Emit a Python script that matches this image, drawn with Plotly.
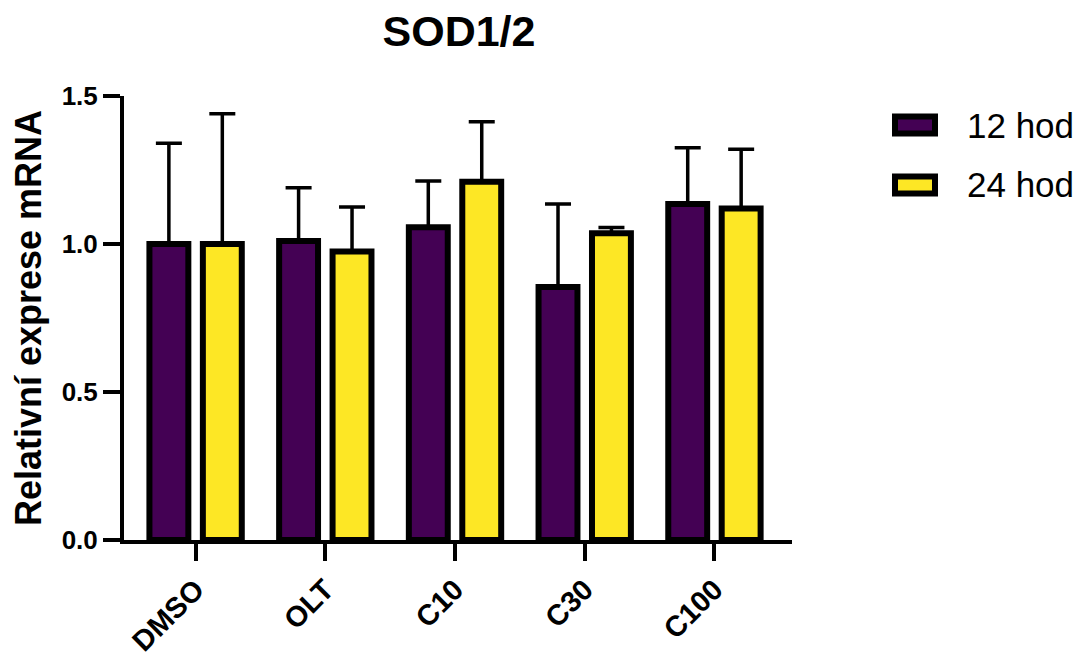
import plotly.graph_objects as go

categories = ["DMSO", "OLT", "C10", "C30", "C100"]
series_names = ["12 hod", "24 hod"]
values_12 = [1.00, 1.01, 1.057, 0.855, 1.135]
errors_12 = [0.34, 0.18, 0.156, 0.28, 0.19]
values_24 = [1.00, 0.975, 1.21, 1.036, 1.12]
errors_24 = [0.44, 0.15, 0.203, 0.02, 0.20]
colors = ["#440154", "#FDE725"]
y_ticks = [0.0, 0.5, 1.0, 1.5]

FONT = "Liberation Sans, Arial, Helvetica, sans-serif"
W, H = 1083, 657
ML, MR, MT, MB = 124, 291, 96, 117
PW, PH = W - ML - MR, H - MT - MB

bar_w = 0.30
half_gap = 0.206
offsets = [-half_gap - bar_w / 2, half_gap - bar_w / 2]

fig = go.Figure()
for name, vals, errs, col, off in zip(series_names, [values_12, values_24],
                                     [errors_12, errors_24], colors, offsets):
    fig.add_trace(go.Bar(
        x=categories, y=vals, name=name, width=bar_w, offset=off,
        marker=dict(color=col, line=dict(color="black", width=6)),
        error_y=dict(type="data", array=errs, arrayminus=[0] * len(errs),
                     symmetric=False, color="black", thickness=3.5, width=13),
        showlegend=False,
    ))

# custom legend (pixel positions converted to paper coords)
def px_x(p):
    return (p - ML) / PW

def px_y(p):
    return (H - MB - p) / PH

legend_rows = [125, 185]
shapes = []
annotations = []
for name, col, yc in zip(series_names, colors, legend_rows):
    shapes.append(dict(type="rect", xref="paper", yref="paper",
                       x0=px_x(895), x1=px_x(935), y0=px_y(yc + 8.5), y1=px_y(yc - 8.5),
                       fillcolor=col, line=dict(color="black", width=6), layer="above"))
    annotations.append(dict(text=name, xref="paper", yref="paper",
                            x=px_x(965), y=px_y(yc), xanchor="left", yanchor="middle",
                            showarrow=False, font=dict(family=FONT, size=35, color="black")))

fig.update_layout(
    width=W, height=H,
    margin=dict(l=ML, r=MR, t=MT, b=MB, pad=0, autoexpand=False),
    paper_bgcolor="white", plot_bgcolor="white",
    barmode="overlay",
    title=dict(text="<b>SOD1/2</b>", x=459 / W, xref="container", xanchor="center",
               y=1 - 31 / H, yref="container", yanchor="middle",
               font=dict(family=FONT, size=43, color="black")),
    shapes=shapes, annotations=annotations,
    font=dict(family=FONT, color="black"),
)
fig.update_xaxes(
    range=[-0.552, 4.598], showline=True, linecolor="black", linewidth=4,
    ticks="outside", ticklen=17, tickwidth=4, tickcolor="black",
    tickangle=-45, tickfont=dict(family=FONT, size=29, color="black", weight="bold"),
    showgrid=False, zeroline=False, automargin=False,
)
fig.update_yaxes(
    range=[0, 1.5], tickvals=y_ticks, tickformat=".1f",
    showline=True, linecolor="black", linewidth=4,
    ticks="outside", ticklen=17, tickwidth=4, tickcolor="black",
    tickfont=dict(family=FONT, size=26, color="black", weight="bold"),
    title=dict(text="Relativní exprese mRNA", standoff=10,
               font=dict(family=FONT, size=36, color="black", weight="bold")),
    showgrid=False, zeroline=False, automargin=False,
)

fig.write_html("out.html")
